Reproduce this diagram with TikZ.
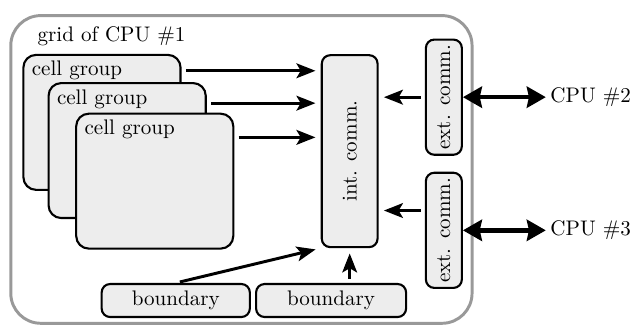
\documentclass[tikz,border=0pt]{standalone}
\usetikzlibrary{arrows.meta}
\begin{document}
\begin{tikzpicture}[
  box/.style={draw, line width=1pt, fill=black!7, rounded corners=4pt},
  grp/.style={box, minimum width=2.62cm, minimum height=2.25cm, rounded corners=6pt},
  grplabel/.style={anchor=north west, inner sep=3.3pt, xshift=1pt},
  arr/.style={line width=1.4pt, -{Stealth[length=9pt,width=7pt,inset=2pt]}, shorten <=2pt, shorten >=2.5pt},
  darr/.style={line width=2.2pt, {Stealth[length=9pt,width=10pt,inset=1pt]}-{Stealth[length=9pt,width=10pt,inset=1pt]}}]
  \useasboundingbox (0,0) rectangle (10.62,5.45);
  \draw[black!40, line width=1.4pt, rounded corners=0.5cm] (0.18,0.06) rectangle (7.87,5.19);
  \node[anchor=base west, inner sep=0pt] (title) at (0.62,4.75) {grid of CPU \#1};

  \node[grp] (cell1) at (1.70,3.41) {};
  \node[grplabel] (lab1) at (cell1.north west) {cell group};
  \node[grp] (cell2) at (2.12,2.94) {};
  \node[grplabel] (lab2) at (cell2.north west) {cell group};
  \node[grp] (cell3) at (2.58,2.43) {};
  \node[grplabel] (lab3) at (cell3.north west) {cell group};

  \node[box, minimum width=0.93cm, minimum height=3.2cm] (int) at (5.83,2.93) {\rotatebox{90}{int. comm.}};
  \node[box, minimum width=0.6cm, minimum height=1.92cm, inner sep=0pt] (ext1) at (7.40,3.83) {\rotatebox{90}{ext. comm.}};
  \node[box, minimum width=0.6cm, minimum height=1.92cm, inner sep=0pt] (ext2) at (7.40,1.61) {\rotatebox{90}{ext. comm.}};
  \node[box, minimum width=2.47cm, minimum height=0.55cm, inner sep=0pt] (bnd1) at (2.93,0.44) {boundary};
  \node[box, minimum width=2.5cm, minimum height=0.55cm, inner sep=0pt] (bnd2) at (5.52,0.44) {boundary};
  \node[anchor=west, inner sep=2pt] (cpu2) at (9.10,3.83) {CPU \#2};
  \node[anchor=west, inner sep=2pt] (cpu3) at (9.10,1.61) {CPU \#3};

  \draw[arr] (cell1.east |- 0,4.27) -- (int.west |- 0,4.27);
  \draw[arr] (cell2.east |- 0,3.73) -- (int.west |- 0,3.73);
  \draw[arr] (cell3.east |- 0,3.16) -- (int.west |- 0,3.16);
  \draw[arr] (ext1.west) -- (ext1.west -| int.east);
  \coordinate (in2) at ([yshift=0.33cm]ext2.west);
  \draw[arr] (in2) -- (in2 -| int.east);
  \draw[darr] (ext1.east) -- (cpu2.west);
  \draw[darr] (ext2.east) -- (cpu3.west);
  \draw[arr] (bnd1.north) -- (int.south west);
  \draw[arr] (int.south |- bnd2.north) -- (int.south);
\end{tikzpicture}
\end{document}
